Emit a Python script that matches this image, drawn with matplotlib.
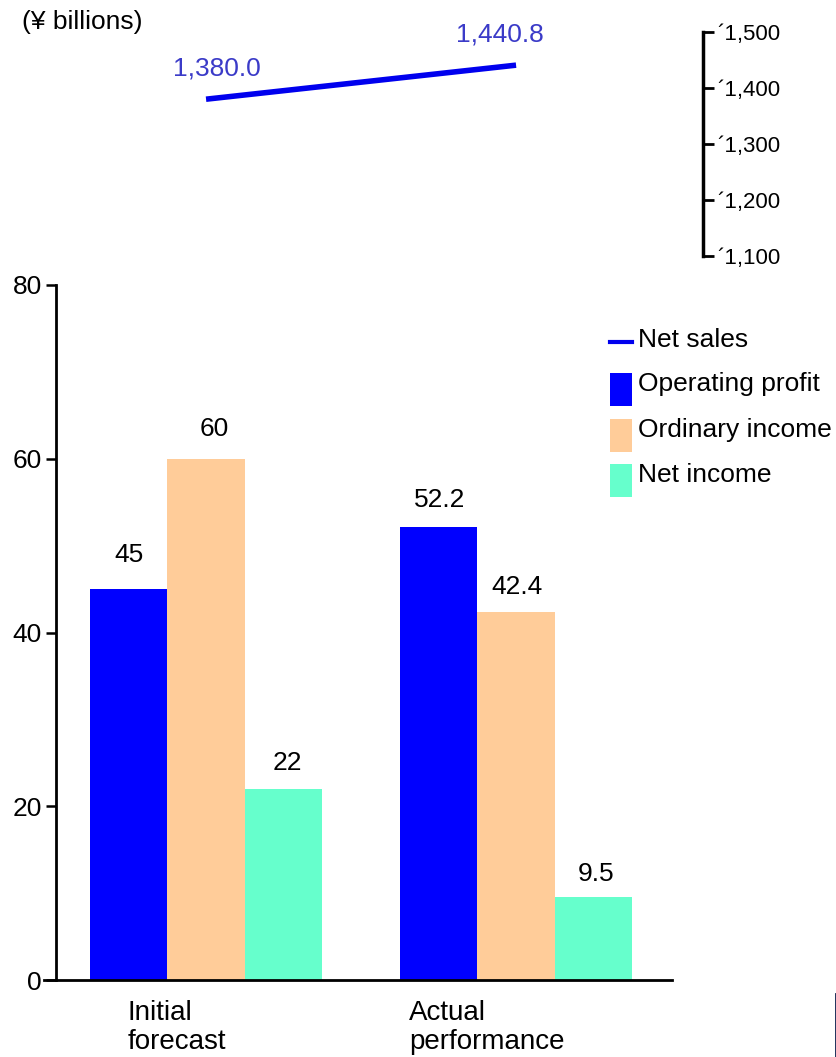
import matplotlib
matplotlib.use("Agg")
import matplotlib.pyplot as plt
from matplotlib.patches import Rectangle
from matplotlib.lines import Line2D
from matplotlib.transforms import blended_transform_factory
import numpy as np

plt.rcParams['font.family'] = ['Liberation Sans', 'DejaVu Sans']

# ---- data ----
groups = ["Initial\nforecast", "Actual\nperformance"]
net_sales = [1380.0, 1440.8]
net_sales_labels = ["1,380.0", "1,440.8"]
operating_profit = [45, 52.2]
ordinary_income = [60, 42.4]
net_income = [22, 9.5]
bar_labels = [["45", "60", "22"], ["52.2", "42.4", "9.5"]]
series_names = ["Operating profit", "Ordinary income", "Net income"]
sales_ticks = [1100, 1200, 1300, 1400, 1500]
sales_tick_labels = ["\u00b41,100", "\u00b41,200", "\u00b41,300", "\u00b41,400", "\u00b41,500"]
profit_ticks = [0, 20, 40, 60, 80]

# ---- style ----
c_op = "#0000FF"
c_ord = "#FFCC99"
c_net = "#66FFCC"
c_sales = "#0000EE"
c_sales_txt = "#3B3BC8"

W, H = 837, 1057
fig = plt.figure(figsize=(W / 100, H / 100), dpi=100)

def fx(px):
    return px / W

def fy(py):
    return 1 - py / H

# x data range shared by both panels (group centres at 0 and 1)
x_left = -0.484
x_right_bar = 1.503
x_right_line = 1.603

# ---- bar panel ----
ax = fig.add_axes([fx(56), fy(980), fx(672) - fx(56), fy(285) - fy(980)])
x = np.arange(len(groups))
bw = 0.25
series = [operating_profit, ordinary_income, net_income]
colors = [c_op, c_ord, c_net]
for k, (vals, col) in enumerate(zip(series, colors)):
    ax.bar(x + (k - 1) * bw, vals, width=bw, color=col, edgecolor="none",
           label=series_names[k], zorder=2)

ax.set_xlim(x_left, x_right_bar)
ax.set_ylim(0, 80)
ax.set_yticks(profit_ticks)
ax.set_yticklabels([str(t) for t in profit_ticks])
ax.tick_params(axis="y", direction="out", length=7, width=1.8, pad=3,
               labelsize=19, colors="black")
ax.set_xticks([])
for s in ["top", "right"]:
    ax.spines[s].set_visible(False)
ax.spines["left"].set_linewidth(2)
ax.spines["bottom"].set_linewidth(2)
ax.spines["bottom"].set_bounds(x_left - 0.04, x_right_bar)
ax.spines["bottom"].set_clip_on(False)

# value labels above bars (pixel gap and horizontal nudge per bar)
gaps = [[22, 18, 14], [15, 13, 11]]
nudges = [[0, 8, 4], [1, 1, 2]]
for g in range(len(groups)):
    for k, vals in enumerate(series):
        ax.annotate(bar_labels[g][k], xy=(x[g] + (k - 1) * bw, vals[g]),
                    xytext=(nudges[g][k] * 0.72, gaps[g][k] * 0.72),
                    textcoords="offset points",
                    ha="center", va="bottom", fontsize=19, color="black")

# category labels under the axis
cat_x = [-0.252, 0.655]
cat_tr = blended_transform_factory(ax.transData, fig.transFigure)
for g, lab in enumerate(groups):
    ax.text(cat_x[g], fy(1000), lab, transform=cat_tr,
            ha="left", va="top", fontsize=20, linespacing=1.15, color="black")

# ---- net sales line panel ----
ax2 = fig.add_axes([fx(56), fy(256), fx(703) - fx(56), fy(32) - fy(256)])
ax2.plot(x, net_sales, color=c_sales, linewidth=4, solid_capstyle="butt")
ax2.set_xlim(x_left, x_right_line)
ax2.set_ylim(1100, 1500)
ax2.set_yticks(sales_ticks)
ax2.set_yticklabels(sales_tick_labels)
ax2.yaxis.tick_right()
ax2.tick_params(axis="y", direction="out", length=8, width=2, pad=2,
                labelsize=16, colors="black")
ax2.set_xticks([])
for s in ["top", "left", "bottom"]:
    ax2.spines[s].set_visible(False)
ax2.spines["right"].set_linewidth(2.5)
ax2.patch.set_alpha(0)

label_off = [(8, 13.5), (-12, 13.5)]
for i in range(len(x)):
    ax2.annotate(net_sales_labels[i], xy=(x[i], net_sales[i]),
                 xytext=label_off[i], textcoords="offset points",
                 ha="center", va="bottom", fontsize=19, color=c_sales_txt)

fig.text(fx(22), fy(22), "(\u00a5 billions)", ha="left", va="center",
         fontsize=19, color="black")

# ---- legend ----
leg_x = fx(610)
sw = fx(632) - fx(610)
fig.add_artist(Line2D([fx(610), fx(632)], [fy(342), fy(342)], color=c_sales,
                      linewidth=3, transform=fig.transFigure))
fig.text(fx(638), fy(340), "Net sales", ha="left", va="center", fontsize=19)
rows = [389, 435, 480]
for k, cy in enumerate(rows):
    fig.add_artist(Rectangle((leg_x, fy(cy + 16.5)), sw, fy(cy - 16.5) - fy(cy + 16.5),
                             facecolor=colors[k], edgecolor="none",
                             transform=fig.transFigure))
    fig.text(fx(638), fy(cy - 5), series_names[k], ha="left", va="center",
             fontsize=19)

# thin frame edge at the lower right
fig.add_artist(Line2D([fx(836), fx(836)], [fy(994), fy(1057)], color="#0B1F4D",
                      linewidth=2, transform=fig.transFigure))

fig.savefig("out.png", dpi=100)
